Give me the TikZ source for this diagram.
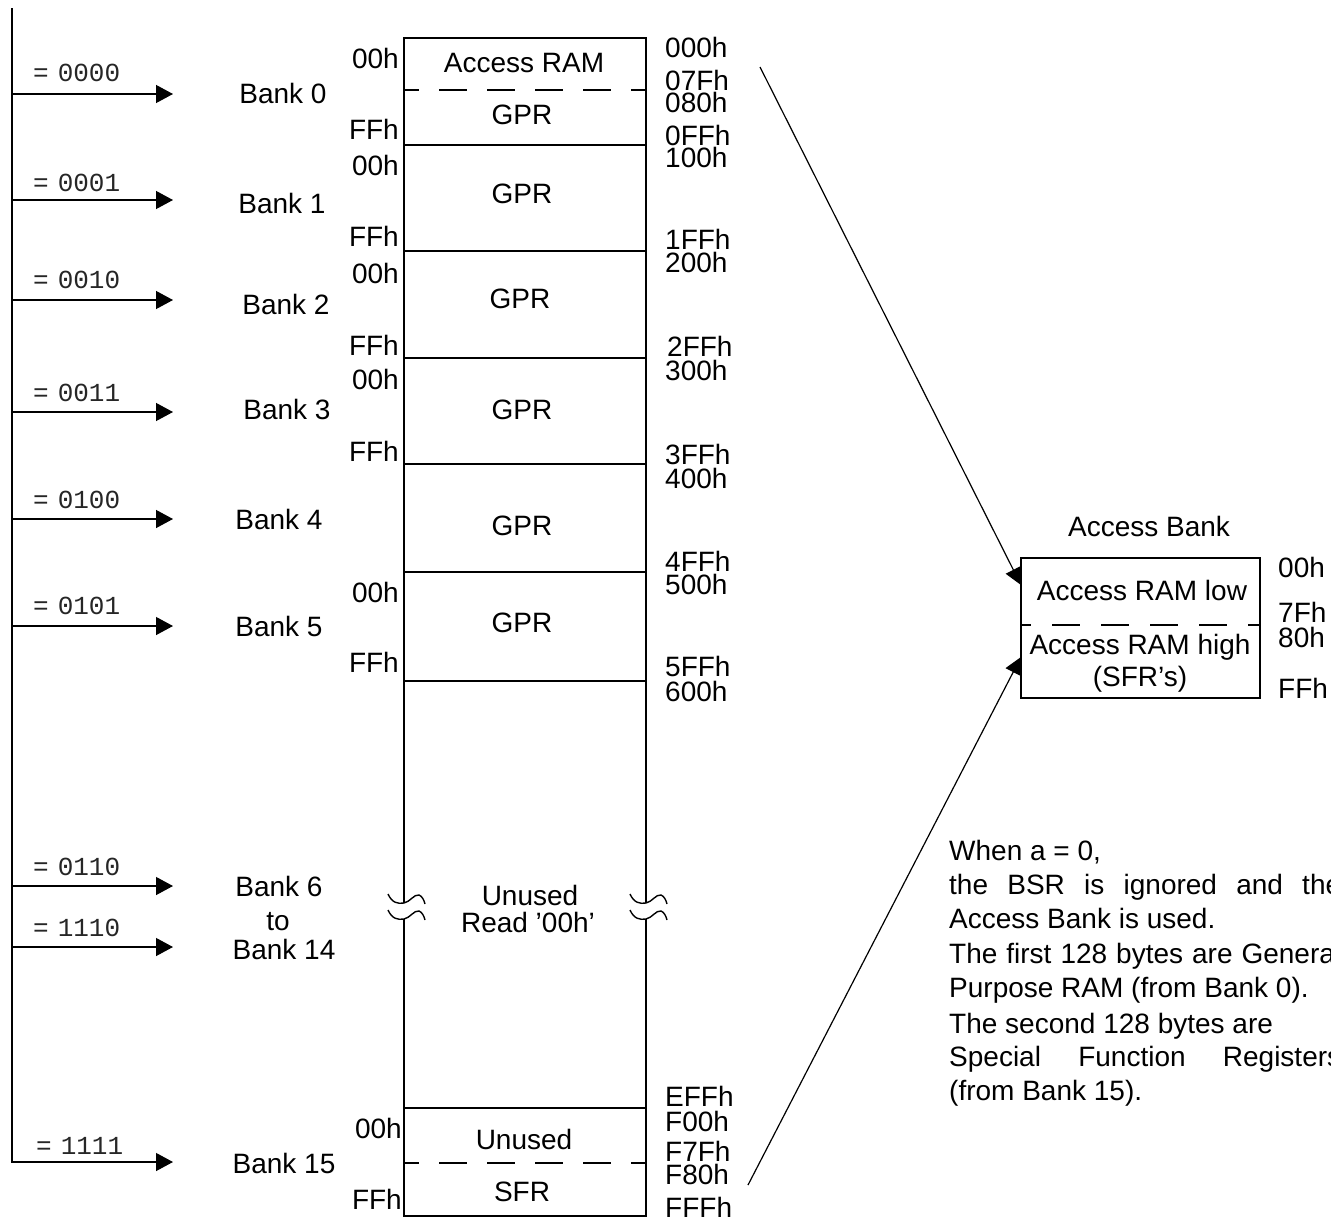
\documentclass[tikz,border=0pt]{standalone}
\usepackage{fontspec}
\setmainfont{Liberation Sans}
\newfontfamily\monof{Liberation Mono}
\usetikzlibrary{arrows.meta}
\begin{document}
\begin{tikzpicture}[x=1pt,y=-1pt,
  ln/.style={line width=1.3pt},
  arr/.style={line width=1.3pt,-{Triangle[length=17pt,width=18pt]}},
  dashln/.style={line width=1.3pt,dash pattern=on 28pt off 20pt,dash phase=13pt},
  lbl/.style={font=\fontsize{28}{32}\selectfont,inner sep=0pt,text height=20pt,text depth=0pt},
  mono/.style={font=\monof\fontsize{26}{30}\selectfont,inner sep=0pt,text height=16pt,text depth=0pt,anchor=west,text=black!85},
  hexr/.style={lbl,anchor=west},
  hexl/.style={lbl,anchor=east},
  txt/.style={lbl,anchor=west}
]
\useasboundingbox (0,0) rectangle (1331,1219);
\clip (0,0) rectangle (1331,1219);
\fill[white] (0,0) rectangle (1331,1219);

% ---- bus line and bank-select arrows
\coordinate (bustop) at (12,8);
\coordinate (e15) at (173,1162);
\draw[arr] (bustop) |- (e15);
\foreach \n/\y in {0/94,1/200,2/300,3/412,4/519,5/626,6/886,14/947}{
  \coordinate (s\n) at (12,\y);
  \coordinate (e\n) at (173,\y);
  \draw[arr] (s\n) -- (e\n);
}
\foreach \n/\t/\y in {0/0000/73,1/0001/183,2/0010/280,3/0011/393,4/0100/500,5/0101/606,6/0110/867,14/1110/928}{
  \node[mono] (sel\n) at (33,\y) {=\hspace{9pt}\t};
}
\node[mono] (sel15) at (36,1146) {=\hspace{9pt}1111};

% ---- bank names
\node[lbl] (bank0) at (283,93) {Bank 0};
\node[lbl] (bank1) at (282,203) {Bank 1};
\node[lbl] (bank2) at (286,304) {Bank 2};
\node[lbl] (bank3) at (287,409) {Bank 3};
\node[lbl] (bank4) at (279,519) {Bank 4};
\node[lbl] (bank5) at (279,626) {Bank 5};
\node[lbl] (bank6) at (279,886) {Bank 6};
\node[lbl] (bankto) at (278,920) {to};
\node[lbl] (bank14) at (284,949) {Bank 14};
\node[lbl] (bank15) at (284,1163) {Bank 15};

% ---- memory column
\draw[ln] (404,903) -- (404,38) -- (646,38) -- (646,903);
\draw[ln] (404,919) -- (404,1216) -- (646,1216) -- (646,919);
\foreach \y in {145,251,358,464,572,681,1108}{
  \draw[ln] (404,\y) -- (646,\y);
}
\draw[dashln] (404,90) -- (646,90);
\draw[dashln] (404,1163) -- (646,1163);
% break marks
\foreach \x in {404,646}{
  \foreach \y in {903,919}{
    \draw[line width=1.4pt] (\x-16,\y-9) .. controls (\x-12,\y) and (\x-6,\y+1) .. (\x,\y)
      .. controls (\x+6,\y-1) and (\x+10,\y-9) .. (\x+15,\y-8)
      .. controls (\x+18,\y-7) and (\x+20,\y-3) .. (\x+21,\y+1);
  }
}

% ---- labels inside column
\node[lbl] (accram) at (524,62) {Access RAM};
\node[lbl] (gpr0) at (522,114) {GPR};
\node[lbl] (gpr1) at (522,193) {GPR};
\node[lbl] (gpr2) at (520,298) {GPR};
\node[lbl] (gpr3) at (522,409) {GPR};
\node[lbl] (gpr4) at (522,525) {GPR};
\node[lbl] (gpr5) at (522,622) {GPR};
\node[lbl] (unused1) at (530,895) {Unused};
\node[lbl] (read00) at (528,922) {Read ’00h’};
\node[lbl] (unused2) at (524,1139) {Unused};
\node[lbl] (sfr) at (522,1191) {SFR};

% ---- left offsets
\node[hexl] (l0a) at (399,58) {00h};
\node[hexl] (l0b) at (399,129) {FFh};
\node[hexl] (l1a) at (399,165) {00h};
\node[hexl] (l1b) at (399,236) {FFh};
\node[hexl] (l2a) at (399,273) {00h};
\node[hexl] (l2b) at (399,345) {FFh};
\node[hexl] (l3a) at (399,379) {00h};
\node[hexl] (l3b) at (399,451) {FFh};
\node[hexl] (l5a) at (399,592) {00h};
\node[hexl] (l5b) at (399,662) {FFh};
\node[hexl] (l15a) at (402,1128) {00h};
\node[hexl] (l15b) at (402,1199) {FFh};

% ---- right addresses
\node[hexr] (r000) at (665,47) {000h};
\node[hexr] (r07F) at (665,80) {07Fh};
\node[hexr] (r080) at (665,102) {080h};
\node[hexr] (r0FF) at (665,135) {0FFh};
\node[hexr] (r100) at (665,157) {100h};
\node[hexr] (r1FF) at (665,239) {1FFh};
\node[hexr] (r200) at (665,262) {200h};
\node[hexr] (r2FF) at (667,346) {2FFh};
\node[hexr] (r300) at (665,370) {300h};
\node[hexr] (r3FF) at (665,454) {3FFh};
\node[hexr] (r400) at (665,478) {400h};
\node[hexr] (r4FF) at (665,561) {4FFh};
\node[hexr] (r500) at (665,584) {500h};
\node[hexr] (r5FF) at (665,666) {5FFh};
\node[hexr] (r600) at (665,691) {600h};
\node[hexr] (rEFF) at (665,1096) {EFFh};
\node[hexr] (rF00) at (665,1121) {F00h};
\node[hexr] (rF7F) at (665,1151) {F7Fh};
\node[hexr] (rF80) at (665,1174) {F80h};
\node[hexr] (rFFF) at (665,1207) {FFFh};

% ---- access bank
\node[lbl] (abtitle) at (1149,526) {Access Bank};
\node[ln,draw,minimum width=239pt,minimum height=140pt,inner sep=0pt] (ab) at (1140.5,628) {};
\draw[line width=1.3pt,dash pattern=on 28pt off 21pt,dash phase=17pt] (ab.west |- 0,625) -- (ab.east |- 0,625);
\node[lbl] (ablow) at (1142,590) {Access RAM low};
\node[lbl] (abhigh) at (1140,644) {Access RAM high};
\node[lbl] (absfr) at (1140,676) {(SFR’s)};
\node[hexr] (a00) at (1278,567) {00h};
\node[hexr] (a7F) at (1278,612) {7Fh};
\node[hexr] (a80) at (1278,637) {80h};
\node[hexr] (aFF) at (1278,688) {FFh};

% ---- diagonal connectors
\coordinate (from1) at (760,67);
\coordinate (to1) at (1021,585);
\coordinate (from2) at (748,1185);
\coordinate (to2) at (1021,657);
\draw[line width=1.2pt,-{Triangle[length=17pt,width=17pt]}] (from1) -- (to1);
\draw[line width=1.2pt,-{Triangle[length=17pt,width=17pt]}] (from2) -- (to2);

% ---- explanation text
\node[txt] (t1) at (949,850) {When a = 0,};
\node[txt] (t2) at (949,884) {\makebox[392pt][s]{the BSR is ignored and the}};
\node[txt] (t3) at (949,918) {Access Bank is used.};
\node[txt] (t4) at (949,953) {\makebox[392pt][s]{The first 128 bytes are General}};
\node[txt] (t5) at (949,987) {Purpose RAM (from Bank 0).};
\node[txt] (t6) at (949,1023) {The second 128 bytes are};
\node[txt] (t7) at (949,1056) {\makebox[392pt][s]{Special Function Registers}};
\node[txt] (t8) at (949,1090) {(from Bank 15).};
\end{tikzpicture}
\end{document}
